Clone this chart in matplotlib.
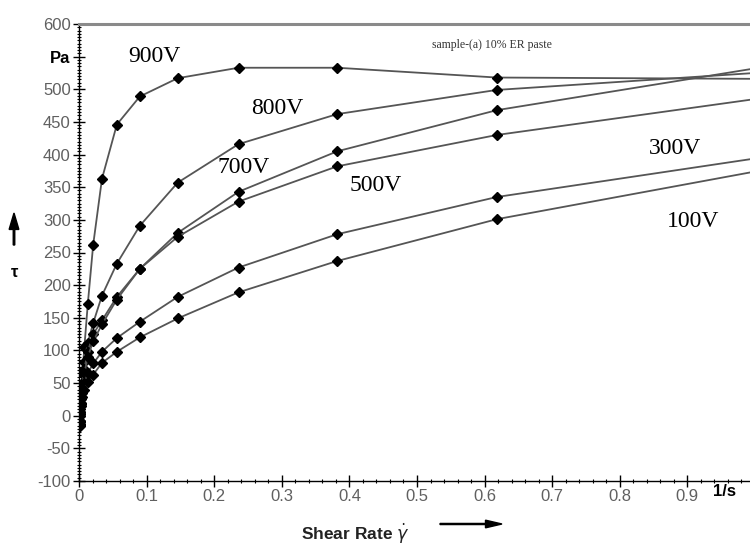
import matplotlib
matplotlib.use("Agg")
import matplotlib.pyplot as plt
from matplotlib.ticker import MultipleLocator, FixedLocator, FixedFormatter

# shear rate points (1/s), same for every voltage
SHEAR_RATE = [0.0012, 0.002, 0.003, 0.005, 0.008, 0.013, 0.021, 0.034, 0.056,
              0.090, 0.146, 0.236, 0.382, 0.618, 1.0]

TAU_900V = [-10, 10, 35, 65, 106, 171, 262, 363, 446, 489, 517, 533, 533, 518, 516]
TAU_800V = [-12, 5, 25, 50, 82, 112, 142, 184, 233, 291, 357, 416, 462, 499, 525]
TAU_700V = [-15, 2, 20, 45, 72, 98, 125, 146, 182, 225, 280, 343, 405, 468, 532]
TAU_500V = [-14, 0, 18, 40, 65, 90, 114, 140, 178, 225, 274, 328, 382, 430, 485]
TAU_300V = [-8, 5, 18, 35, 50, 65, 80, 98, 119, 144, 182, 227, 278, 335, 394]
TAU_100V = [-8, 3, 15, 28, 40, 52, 63, 81, 98, 120, 149, 189, 237, 301, 374]

SERIES = [TAU_900V, TAU_800V, TAU_700V, TAU_500V, TAU_300V, TAU_100V]

# (text, x, y) in data units
VOLT_LABELS = [("900V", 0.112, 550), ("800V", 0.293, 471), ("700V", 0.244, 380),
               ("500V", 0.439, 352), ("300V", 0.881, 410), ("100V", 0.908, 297)]

Y_TICKS = list(range(-100, 601, 50))
Y_TICK_LABELS = [("Pa" if v == 550 else str(v)) for v in Y_TICKS]
X_TICKS = [0, 0.1, 0.2, 0.3, 0.4, 0.5, 0.6, 0.7, 0.8, 0.9]
X_TICK_LABELS = ["0", "0.1", "0.2", "0.3", "0.4", "0.5", "0.6", "0.7", "0.8", "0.9"]

SANS = ["Liberation Sans Narrow", "Liberation Sans", "DejaVu Sans"]
SERIF = ["Liberation Serif", "DejaVu Serif"]

fig = plt.figure(figsize=(7.5, 5.48), dpi=100)
ax = fig.add_axes([79 / 750, 1 - 481 / 548, 1 - 79 / 750, (481 - 24) / 548])

for tau in SERIES:
    ax.plot(SHEAR_RATE, tau, color="#555555", lw=1.3, marker="D", ms=5.0,
            mfc="black", mec="black", zorder=3)

ax.set_xlim(0, (750 - 79) / 676)
ax.set_ylim(-100, 600)

ax.spines["right"].set_visible(False)
ax.spines["top"].set_color("#8a8a8a")
ax.spines["top"].set_linewidth(2.2)
ax.spines["left"].set_linewidth(1.0)
ax.spines["bottom"].set_linewidth(1.0)

ax.yaxis.set_major_locator(FixedLocator(Y_TICKS))
ax.yaxis.set_major_formatter(FixedFormatter(Y_TICK_LABELS))
ax.yaxis.set_minor_locator(MultipleLocator(5))
ax.xaxis.set_major_locator(FixedLocator(X_TICKS))
ax.xaxis.set_major_formatter(FixedFormatter(X_TICK_LABELS))
ax.xaxis.set_minor_locator(MultipleLocator(0.02))

ax.tick_params(which="major", direction="inout", length=8, width=1.0, color="black",
               labelsize=12, labelcolor="#606060", pad=2)
ax.tick_params(which="minor", direction="inout", length=3, width=0.8, color="black")
for lab in ax.get_xticklabels() + ax.get_yticklabels():
    lab.set_family(SANS)
for lab in ax.get_yticklabels():
    if lab.get_text() == "Pa":
        lab.set_fontweight("bold")
        lab.set_color("black")

for text, x, y in VOLT_LABELS:
    ax.text(x, y, text, family=SERIF, fontsize=17, ha="center", va="center", zorder=4)

ax.text(0.611, 568, "sample-(a) 10% ER paste", family=SERIF, fontsize=8.5,
        color="#333333", ha="center", va="center")

# unit on the x axis next to the last tick label
fig.text(725 / 750, 1 - 492 / 548, "1/s", family=SANS, fontsize=12, fontweight="bold",
         ha="center", va="center")

# axis titles with arrows
fig.text(355 / 750, 1 - 534 / 548, "Shear Rate $\\dot{\\gamma}$", family=SANS, fontsize=12.5,
         fontweight="bold", color="#222222", ha="center", va="center")
fig.patches.append(matplotlib.patches.FancyArrow(
    440 / 750, 1 - 524 / 548, 62 / 750, 0, width=0.002, head_width=0.014, head_length=0.022,
    length_includes_head=True, color="black", transform=fig.transFigure))
fig.text(15 / 750, 1 - 272 / 548, "τ", family=SANS, fontsize=12, fontweight="bold",
         ha="center", va="center")
fig.patches.append(matplotlib.patches.FancyArrow(
    14 / 750, 1 - 245 / 548, 0, 32 / 548, width=0.002, head_width=0.013, head_length=0.03,
    length_includes_head=True, color="black", transform=fig.transFigure))

fig.savefig("out.png", dpi=100)
